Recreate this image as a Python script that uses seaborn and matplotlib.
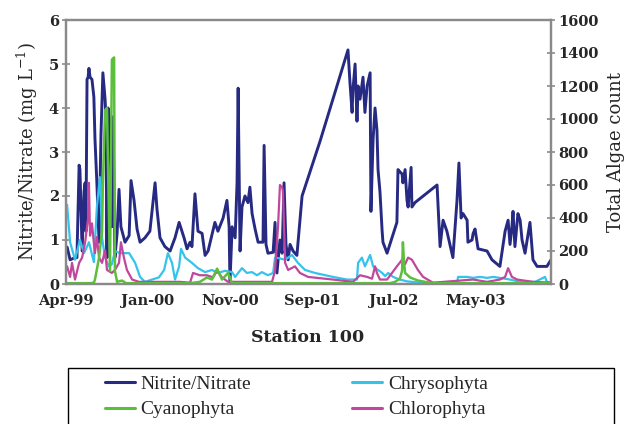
import numpy as np
import pandas as pd
import seaborn as sns
import matplotlib
matplotlib.use("Agg")
import matplotlib.pyplot as plt
from matplotlib.lines import Line2D
from matplotlib.patches import Rectangle

# ---------------- data (x = days since Apr-99 start) ----------------
nitrate_days = [4, 15, 33, 40, 48, 51, 59, 66, 70, 73, 77, 81, 84, 88, 95, 102, 106, 113, 121, 128,
                135, 143, 146, 150, 154, 161, 168, 172, 179, 187, 194, 201, 216, 231, 238, 249, 260, 271,
                289, 307, 326, 333, 344, 362, 381, 399, 414, 432, 443, 454, 461, 472, 483, 498, 509, 520,
                545, 556, 575, 589, 597, 600, 608, 619, 626, 630, 637, 644, 655, 666, 673, 681, 692, 703,
                721, 725, 732, 739, 758, 765, 772, 783, 791, 798, 805, 813, 820, 831, 845, 864, 930, 1032,
                1039, 1047, 1050, 1058, 1065, 1069, 1076, 1087, 1094, 1102, 1113, 1116, 1124, 1131, 1138,
                1142, 1149, 1157, 1160, 1175, 1193, 1211, 1215, 1222, 1230, 1233, 1241, 1248, 1252, 1263,
                1266, 1277, 1358, 1369, 1380, 1394, 1416, 1431, 1438, 1446, 1453, 1468, 1471, 1486, 1490,
                1497, 1508, 1541, 1559, 1588, 1607, 1618, 1625, 1632, 1636, 1643, 1654, 1662, 1669, 1680,
                1698, 1709, 1724, 1760, 1775]
nitrate_vals = [0.84, 0.55, 0.6, 0.6, 2.7, 2.6, 0.75, 2.1, 2.3, 1.2, 4.65, 4.7, 4.9, 4.7, 4.65, 4.25, 3.3,
                2.3, 0.95, 3.4, 4.8, 4.2, 3.8, 0.6, 4.0, 3.65, 1.3, 3.8, 0.6, 1.15, 2.15, 1.3, 0.95, 1.1,
                2.35, 1.9, 1.25, 0.95, 1.05, 1.2, 2.3, 1.7, 1.05, 0.85, 0.75, 1.05, 1.4, 1.05, 0.8, 0.95,
                0.85, 2.05, 1.2, 1.15, 0.65, 0.75, 1.4, 1.2, 1.5, 1.9, 1.3, 0.02, 1.3, 1.05, 2.3, 4.45,
                0.75, 1.75, 2.0, 1.85, 2.2, 1.6, 1.25, 0.95, 0.95, 3.15, 0.9, 0.7, 0.72, 1.4, 0.25, 1.0,
                0.7, 2.3, 0.9, 0.55, 0.9, 0.75, 0.65, 2.0, 3.25, 5.32, 4.6, 3.9, 4.4, 5.0, 3.7, 4.5, 4.2,
                4.7, 3.9, 4.5, 4.8, 1.65, 3.3, 4.0, 3.5, 2.6, 2.1, 1.2, 0.95, 0.7, 1.05, 1.4, 2.6, 2.55,
                2.5, 2.3, 2.6, 1.9, 1.75, 2.65, 1.75, 1.85, 2.25, 0.85, 1.45, 1.2, 0.6, 1.9, 2.75, 1.5,
                1.6, 1.45, 0.95, 1.0, 1.15, 1.25, 0.8, 0.75, 0.55, 0.4, 1.2, 1.45, 0.9, 1.3, 1.65, 0.85,
                1.6, 1.45, 1.0, 0.7, 1.4, 0.55, 0.4, 0.4, 0.55]

chryso_days = [4, 15, 33, 51, 66, 84, 102, 113, 124, 132, 143, 157, 168, 179, 198, 231, 253, 271, 289,
               315, 340, 359, 373, 388, 399, 414, 421, 436, 461, 483, 509, 534, 556, 582, 608, 619, 630,
               644, 662, 681, 699, 717, 739, 758, 765, 783, 802, 827, 849, 875, 911, 977, 1028, 1065,
               1069, 1083, 1094, 1113, 1124, 1142, 1157, 1168, 1179, 1197, 1222, 1248, 1296, 1431, 1435,
               1468, 1490, 1515, 1541, 1563, 1588, 1625, 1662, 1717, 1753, 1760, 1775]
chryso_vals = [480, 253, 147, 267, 187, 253, 133, 467, 648, 280, 160, 107, 120, 200, 187, 187, 128, 43,
               13, 27, 40, 85, 187, 128, 27, 107, 213, 160, 128, 96, 72, 85, 67, 80, 72, 43, 67, 96, 67,
               72, 53, 72, 53, 67, 160, 155, 147, 176, 128, 85, 67, 43, 27, 27, 128, 160, 107, 176, 107,
               85, 67, 48, 67, 43, 27, 16, 8, 5, 43, 43, 37, 43, 37, 43, 37, 27, 13, 13, 43, 13, 8]

cyano_days = [4, 88, 102, 106, 121, 132, 135, 143, 150, 154, 161, 168, 176, 179, 187, 205, 220, 454, 490,
              516, 534, 553, 571, 593, 608, 1186, 1204, 1222, 1230, 1233, 1237, 1241, 1259, 1288, 1314,
              1340, 1588, 1775]
cyano_vals = [5, 5, 8, 27, 160, 320, 613, 1053, 1067, 693, 80, 1360, 1373, 80, 13, 21, 5, 5, 13, 40, 27,
              93, 27, 67, 5, 5, 13, 32, 80, 253, 133, 67, 40, 21, 13, 5, 5, 5]

chloro_days = [4, 15, 22, 33, 48, 59, 70, 81, 84, 88, 95, 102, 106, 113, 121, 132, 143, 150, 168, 179,
               194, 201, 212, 223, 242, 267, 417, 454, 465, 490, 516, 538, 553, 571, 593, 754, 765, 776,
               783, 791, 794, 802, 813, 838, 856, 886, 919, 977, 1050, 1076, 1102, 1120, 1131, 1138,
               1149, 1175, 1193, 1211, 1230, 1241, 1252, 1266, 1288, 1307, 1343, 1490, 1541, 1588, 1607,
               1618, 1632, 1651, 1709, 1775]
chloro_vals = [107, 43, 128, 27, 128, 160, 253, 400, 613, 293, 368, 248, 187, 285, 160, 128, 205, 85, 67,
               85, 128, 253, 160, 85, 27, 13, 13, 8, 67, 53, 53, 40, 80, 40, 13, 13, 80, 347, 600, 587,
               560, 128, 85, 107, 67, 43, 37, 27, 13, 53, 43, 32, 107, 67, 27, 27, 67, 107, 147, 120,
               160, 147, 85, 43, 8, 27, 13, 27, 43, 96, 43, 27, 13, 8]

tick_days = [0, 300, 600, 900, 1200, 1500]
tick_labels = ["Apr-99", "Jan-00", "Nov-00", "Sep-01", "Jul-02", "May-03"]

colors = {"Nitrite/Nitrate": "#272a82", "Chrysophyta": "#35c3ec",
          "Cyanophyta": "#5cbf3c", "Chlorophyta": "#c0479c"}

# ---------------- figure ----------------
sns.set_style("white")
plt.rcParams["font.family"] = ["DejaVu Serif"]
plt.rcParams["mathtext.fontset"] = "dejavuserif"

fig = plt.figure(figsize=(6.35, 4.24), dpi=100)
ax = fig.add_axes([66 / 635, 1 - 284 / 424, 485 / 635, 264 / 424])
ax2 = ax.twinx()

df_n = pd.DataFrame({"day": nitrate_days, "val": nitrate_vals})
sns.lineplot(data=df_n, x="day", y="val", ax=ax, color=colors["Nitrite/Nitrate"], lw=2.1,
             sort=False, estimator=None)

for name, d, v, lw in [("Chrysophyta", chryso_days, chryso_vals, 1.6),
                       ("Chlorophyta", chloro_days, chloro_vals, 1.6),
                       ("Cyanophyta", cyano_days, cyano_vals, 1.8)]:
    df = pd.DataFrame({"day": d, "val": v})
    sns.lineplot(data=df, x="day", y="val", ax=ax2, color=colors[name], lw=lw,
                 sort=False, estimator=None)

ax.set_xlim(0, 1775)
ax.set_ylim(0, 6)
ax2.set_ylim(0, 1600)
ax.set_yticks(range(0, 7))
ax2.set_yticks(range(0, 1601, 200))
ax.set_xticks(tick_days)
ax.set_xticklabels(tick_labels)
ax.set_xticks(np.arange(0, 1776, 60), minor=True)

spine_col = "#8a8a8a"
for a in (ax, ax2):
    for s in a.spines.values():
        s.set_color(spine_col)
        s.set_linewidth(1.6)
        s.set_visible(True)

ax.tick_params(axis="x", which="both", direction="inout", length=6, width=1.2, color=spine_col,
               labelsize=10.5, pad=4)
ax.tick_params(axis="y", direction="inout", length=6, width=1.2, color=spine_col, labelsize=10.5, pad=2)
ax2.tick_params(axis="y", direction="inout", length=6, width=1.2, color=spine_col, labelsize=10.5, pad=2)
for lab in ax.get_xticklabels() + ax.get_yticklabels() + ax2.get_yticklabels():
    lab.set_fontweight("bold")

ax.set_xlabel("")
ax.set_ylabel("Nitrite/Nitrate (mg L$^{-1}$)", fontsize=13, labelpad=6)
ax2.set_ylabel("Total Algae count", fontsize=13, labelpad=6)

fig.text(308 / 635, 1 - 337 / 424, "Station 100", ha="center", va="center", fontsize=12.5,
         fontweight="bold")

# legend box (wider than its contents, cut by the figure bottom)
fig.patches.append(Rectangle((68 / 635, -0.03), 546 / 635, 1 - 368 / 424 + 0.03,
                             transform=fig.transFigure, fill=False, edgecolor="black",
                             lw=1.0, clip_on=False))
handles = [Line2D([], [], color=colors[n], lw=2.2) for n in
           ["Nitrite/Nitrate", "Cyanophyta", "Chrysophyta", "Chlorophyta"]]
labels = ["Nitrite/Nitrate", "Cyanophyta", "Chrysophyta", "Chlorophyta"]
leg = fig.legend(handles, labels, ncol=2, loc="upper left",
                 bbox_to_anchor=(105 / 635, 1 - 375 / 424), frameon=False,
                 prop={"family": "Liberation Serif", "size": 14}, handlelength=1.55,
                 handletextpad=0.28, labelspacing=0.42, columnspacing=5.2,
                 borderpad=0, borderaxespad=0)

fig.savefig("out.png", dpi=100)
